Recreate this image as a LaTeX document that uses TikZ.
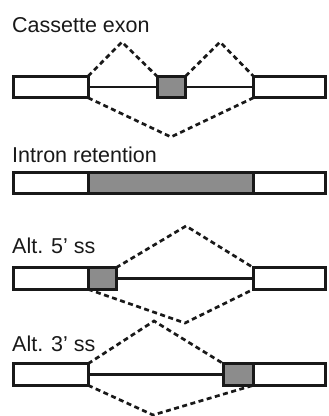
\documentclass[tikz,border=0pt]{standalone}
\usepackage{fontspec}
\setmainfont{Liberation Sans}
\usetikzlibrary{positioning}
\definecolor{exongray}{RGB}{140,140,140}
\definecolor{ink}{RGB}{25,25,25}

\begin{document}
\begin{tikzpicture}[x=1pt, y=-1pt,
        exon/.style={draw=ink, fill=white, line width=3pt, minimum height=21.5pt,
            inner sep=0pt, outer sep=0pt},
        altexon/.style={exon, fill=exongray},
        intron/.style={draw=ink, line width=2.2pt},
        splice/.style={draw=ink, dash pattern=on 5pt off 3.5pt, line width=2.7pt},
        title/.style={anchor=base west, inner sep=0pt, text=ink,
            font=\fontsize{21.5}{24}\selectfont}]
    \useasboundingbox (0,0) rectangle (329,416);

    % Cassette exon
    \node[title] (tce) at (12,32.5) {Cassette exon};
    \node[exon, minimum width=74.5pt] (cea) at (50.75,87) {};
    \node[altexon, minimum width=28.5pt] (ceb) at (171.25,87) {};
    \node[exon, minimum width=72pt] (cec) at (289.5,87) {};
    \coordinate (cep1) at (122,42);
    \coordinate (cep2) at (220,42);
    \coordinate (cep3) at (171,137);
    \draw[intron] (cea.east) -- (ceb.west);
    \draw[intron] (ceb.east) -- (cec.west);
    \begin{scope}[every path/.style=splice]
        \draw (cea.north east) -- (cep1) -- (ceb.north west);
        \draw (ceb.north east) -- (cep2) -- (cec.north west);
        \draw (cea.south east) -- (cep3) -- (cec.south west);
    \end{scope}

    % Intron retention
    \node[title] (tir) at (12,162.5) {Intron retention};
    \node[exon, minimum width=74.5pt] (ira) at (50.75,183) {};
    \node[altexon, minimum width=165.5pt, right=0pt of ira] (irb) {};
    \node[exon, minimum width=72pt, right=0pt of irb] (irc) {};

    % Alt. 5' ss
    \node[title] (tfive) at (12,253) {Alt. 5’ ss};
    \node[exon, minimum width=74.5pt] (fva) at (50.75,278.5) {};
    \node[altexon, minimum width=28pt, right=0pt of fva] (fvb) {};
    \node[exon, minimum width=72pt] (fvc) at (289.5,278.5) {};
    \coordinate (fvp1) at (186,226);
    \coordinate (fvp2) at (185,323);
    \draw[intron] (fvb.east) -- (fvc.west);
    \begin{scope}[every path/.style=splice]
        \draw (fvb.north east) -- (fvp1) -- (fvc.north west);
        \draw (fva.south east) -- (fvp2) -- (fvc.south west);
    \end{scope}

    % Alt. 3' ss
    \node[title] (tthree) at (12,351.5) {Alt. 3’ ss};
    \node[exon, minimum width=74.5pt] (tha) at (50.75,374.5) {};
    \node[exon, minimum width=72pt] (thc) at (289.5,374.5) {};
    \node[altexon, minimum width=30pt, left=0pt of thc] (thb) {};
    \coordinate (thp1) at (154,321);
    \coordinate (thp2) at (153,415);
    \draw[intron] (tha.east) -- (thb.west);
    \begin{scope}[every path/.style=splice]
        \draw (tha.north east) -- (thp1) -- (thb.north west);
        \draw (tha.south east) -- (thp2) -- (thb.south east);
    \end{scope}
\end{tikzpicture}
\end{document}
